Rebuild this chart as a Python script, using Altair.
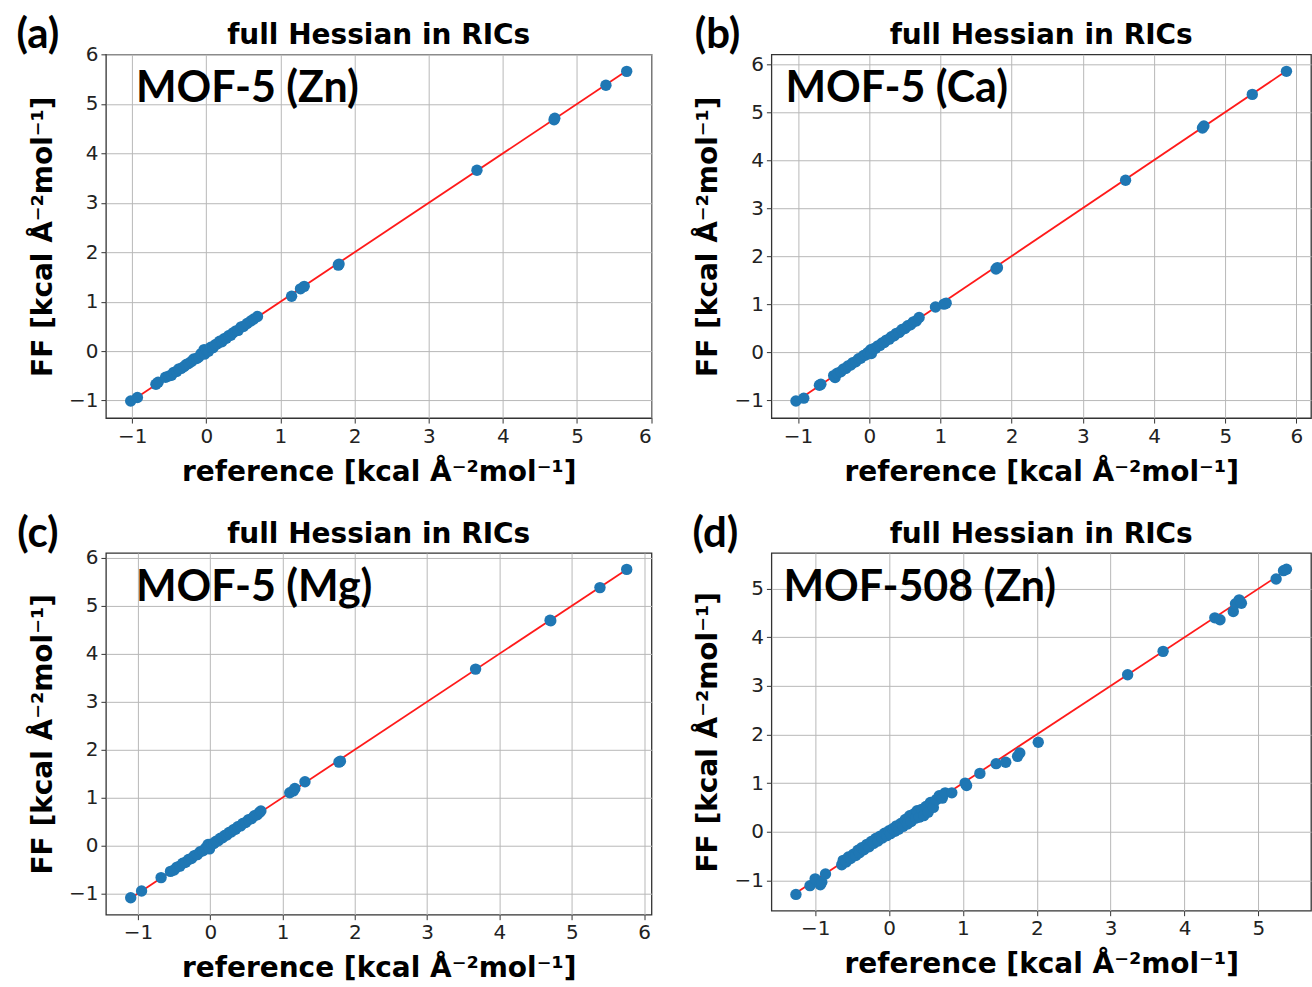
import altair as alt
import pandas as pd

# ---------------- data ----------------
ref_a = [-1.02, -0.93, -0.68, -0.65, -0.55, -0.50, -0.47, -0.44, -0.40, -0.37,
         -0.34, -0.30, -0.27, -0.24, -0.20, -0.17, -0.13, -0.10, -0.07, -0.03,
         -0.02, 0.00, 0.03, 0.06, 0.09, 0.12, 0.15, 0.18, 0.21, 0.24,
         0.27, 0.30, 0.33, 0.36, 0.40, 0.43, 0.47, 0.50, 0.55, 0.60,
         0.64, 0.69, 1.15, 1.27, 1.32, 1.78, 1.79, 3.65, 4.69, 4.70,
         5.39, 5.67]
ff_a = [-1.01, -0.94, -0.67, -0.63, -0.53, -0.50, -0.49, -0.43, -0.41, -0.36,
        -0.35, -0.31, -0.27, -0.25, -0.21, -0.16, -0.15, -0.12, -0.05, 0.03,
        -0.06, 0.02, 0.00, 0.08, 0.07, 0.13, 0.15, 0.20, 0.19, 0.25,
        0.26, 0.31, 0.32, 0.37, 0.41, 0.42, 0.49, 0.50, 0.56, 0.61,
        0.65, 0.70, 1.11, 1.26, 1.31, 1.74, 1.76, 3.66, 4.68, 4.71,
        5.38, 5.66]

ref_b = [-1.03, -0.92, -0.70, -0.68, -0.50, -0.48, -0.45, -0.40, -0.36, -0.33,
         -0.30, -0.26, -0.23, -0.19, -0.15, -0.12, -0.08, -0.05, -0.02, 0.02,
         0.03, 0.06, 0.09, 0.12, 0.15, 0.18, 0.21, 0.24, 0.28, 0.31,
         0.35, 0.38, 0.42, 0.46, 0.50, 0.54, 0.58, 0.62, 0.66, 0.70,
         0.93, 1.05, 1.08, 1.78, 1.80, 3.60, 4.68, 4.70, 5.38, 5.86]
ff_b = [-1.02, -0.96, -0.69, -0.67, -0.49, -0.53, -0.44, -0.41, -0.35, -0.34,
        -0.29, -0.27, -0.22, -0.20, -0.14, -0.13, -0.07, -0.06, -0.01, 0.05,
        -0.03, 0.07, 0.08, 0.13, 0.14, 0.19, 0.20, 0.25, 0.27, 0.32,
        0.34, 0.39, 0.41, 0.47, 0.49, 0.55, 0.57, 0.63, 0.65, 0.72,
        0.94, 1.00, 1.02, 1.73, 1.76, 3.58, 4.67, 4.71, 5.37, 5.85]

ref_c = [-1.10, -0.95, -0.68, -0.55, -0.50, -0.46, -0.42, -0.38, -0.34, -0.30,
         -0.26, -0.22, -0.18, -0.14, -0.10, -0.06, -0.03, -0.01, 0.02, 0.05,
         0.08, 0.11, 0.14, 0.17, 0.20, 0.23, 0.26, 0.29, 0.32, 0.35,
         0.38, 0.42, 0.45, 0.49, 0.53, 0.57, 0.61, 0.65, 0.68, 0.70,
         1.10, 1.15, 1.17, 1.31, 1.78, 1.80, 3.67, 4.70, 4.71, 5.39,
         5.76]
ff_c = [-1.09, -0.95, -0.67, -0.54, -0.51, -0.45, -0.43, -0.37, -0.35, -0.29,
        -0.27, -0.21, -0.19, -0.13, -0.11, -0.05, 0.02, -0.07, 0.03, 0.04,
        0.09, 0.10, 0.15, 0.16, 0.21, 0.22, 0.27, 0.28, 0.33, 0.34,
        0.39, 0.41, 0.46, 0.48, 0.54, 0.56, 0.62, 0.64, 0.69, 0.72,
        1.10, 1.14, 1.19, 1.33, 1.74, 1.76, 3.68, 4.70, 4.69, 5.38,
        5.76]

ref_d = [-1.26, -1.07, -1.00, -0.93, -0.91, -0.86, -0.64, -0.62, -0.58, -0.55,
         -0.52, -0.48, -0.45, -0.42, -0.40, -0.37, -0.34, -0.30, -0.27, -0.24,
         -0.21, -0.18, -0.15, -0.12, -0.09, -0.06, -0.03, 0.00, 0.02, 0.05,
         0.08, 0.10, 0.13, 0.16, 0.19, 0.22, 0.25, 0.28, 0.30, 0.33,
         0.36, 0.38, 0.41, 0.44, 0.47, 0.50, 0.53, 0.56, 0.60, 0.64,
         0.68, 0.72, 0.76, 0.85, 1.03, 1.05, 1.23, 1.45, 1.58, 1.74,
         1.77, 2.02, 3.23, 3.71, 4.41, 4.48, 4.66, 4.69, 4.74, 4.77,
         5.24, 5.34, 5.38]
ff_d = [-1.29, -1.11, -0.97, -1.09, -1.04, -0.87, -0.68, -0.59, -0.62, -0.52,
        -0.55, -0.46, -0.49, -0.38, -0.43, -0.33, -0.37, -0.26, -0.31, -0.20,
        -0.24, -0.14, -0.19, -0.09, -0.13, -0.03, -0.08, 0.02, -0.04, 0.06,
        0.01, 0.12, 0.05, 0.17, 0.11, 0.25, 0.16, 0.33, 0.21, 0.36,
        0.28, 0.43, 0.30, 0.46, 0.33, 0.52, 0.40, 0.60, 0.50, 0.66,
        0.74, 0.69, 0.80, 0.80, 1.00, 0.95, 1.20, 1.40, 1.43, 1.55,
        1.62, 1.84, 3.23, 3.71, 4.40, 4.36, 4.53, 4.69, 4.77, 4.70,
        5.20, 5.37, 5.40]

materials = ["MOF-5 (Zn)", "MOF-5 (Ca)", "MOF-5 (Mg)", "MOF-508 (Zn)"]
letters = ["(a)", "(b)", "(c)", "(d)"]
panel_title = "full Hessian in RICs"
x_title = "reference [kcal Å⁻²mol⁻¹]"
y_title = "FF [kcal Å⁻²mol⁻¹]"
tick_values = [-1, 0, 1, 2, 3, 4, 5, 6]

AXIS_FONT = "DejaVu Sans"
LABEL_FONT = "Lato"


def lims(vals):
    lo, hi = min(vals), max(vals)
    m = 0.05 * (hi - lo)
    return [lo - m, hi + m]


def panel(ref, ff, name, letter, w, h, name_dx, letter_dx):
    df = pd.DataFrame({"ref": ref, "ff": ff})
    xd = lims(ref)
    yd = lims(ff + [min(ref), max(ref)])
    xt = [t for t in tick_values if xd[0] <= t <= xd[1]]
    yt = [t for t in tick_values if yd[0] <= t <= yd[1]]
    xs = alt.Scale(domain=xd, nice=False, zero=False)
    ys = alt.Scale(domain=yd, nice=False, zero=False)
    xax = alt.Axis(title=x_title, values=xt, format="d", titlePadding=12)
    yax = alt.Axis(title=y_title, values=yt, format="d", titlePadding=11)

    pts = alt.Chart(df).mark_circle(size=130, opacity=1, color="#1f77b4").encode(
        x=alt.X("ref:Q", scale=xs, axis=xax),
        y=alt.Y("ff:Q", scale=ys, axis=yax),
    )
    line_df = pd.DataFrame({"ref": [min(ref), max(ref)], "ff": [min(ref), max(ref)]})
    line = alt.Chart(line_df).mark_line(color="#ff1a1a", strokeWidth=1.8).encode(
        x=alt.X("ref:Q", scale=xs), y=alt.Y("ff:Q", scale=ys)
    )
    one = pd.DataFrame({"t": [0]})
    lbl = alt.Chart(one).mark_text(
        text=name, font=LABEL_FONT, fontWeight="bold", fontSize=43,
        align="left", baseline="middle", color="black"
    ).encode(x=alt.value(name_dx), y=alt.value(35))
    let = alt.Chart(one).mark_text(
        text=letter, font=LABEL_FONT, fontWeight="bold", fontSize=42,
        align="center", baseline="middle", color="black"
    ).encode(x=alt.value(letter_dx), y=alt.value(-19))
    ttl = alt.Chart(one).mark_text(
        text=panel_title, font=AXIS_FONT, fontWeight="bold", fontSize=28,
        align="center", baseline="middle", color="black"
    ).encode(x=alt.value(w / 2), y=alt.value(-18))
    return alt.layer(line, pts, lbl, let, ttl).properties(width=w, height=h)


pa = panel(ref_a, ff_a, materials[0], letters[0], 546, 364, 30, -68)
pb = panel(ref_b, ff_b, materials[1], letters[1], 540, 364, 14, -54)
pc = panel(ref_c, ff_c, materials[2], letters[2], 546, 362, 30, -68)
pd_ = panel(ref_d, ff_d, materials[3], letters[3], 540, 358, 12, -56)

chart = alt.concat(pa, pb, pc, pd_, columns=2, spacing={"row": 135, "column": 120},
                   bounds="flush").properties(
    padding={"left": 15, "top": 13, "right": 0, "bottom": 0}
).configure_view(
    stroke="#333333", strokeWidth=1.3
).configure_axis(
    domain=False, grid=True, gridColor="#b8b8b8", gridWidth=1,
    tickColor="#333333", tickSize=5, tickWidth=1,
    labelFont=AXIS_FONT, labelFontSize=20, labelColor="#222222", labelPadding=3,
    titleFont=AXIS_FONT, titleFontSize=28, titleFontWeight="bold", titleColor="black",
).configure_axisY(labelAlign="right")

chart.save("out.html", embed_options={"renderer": "svg", "actions": False})
